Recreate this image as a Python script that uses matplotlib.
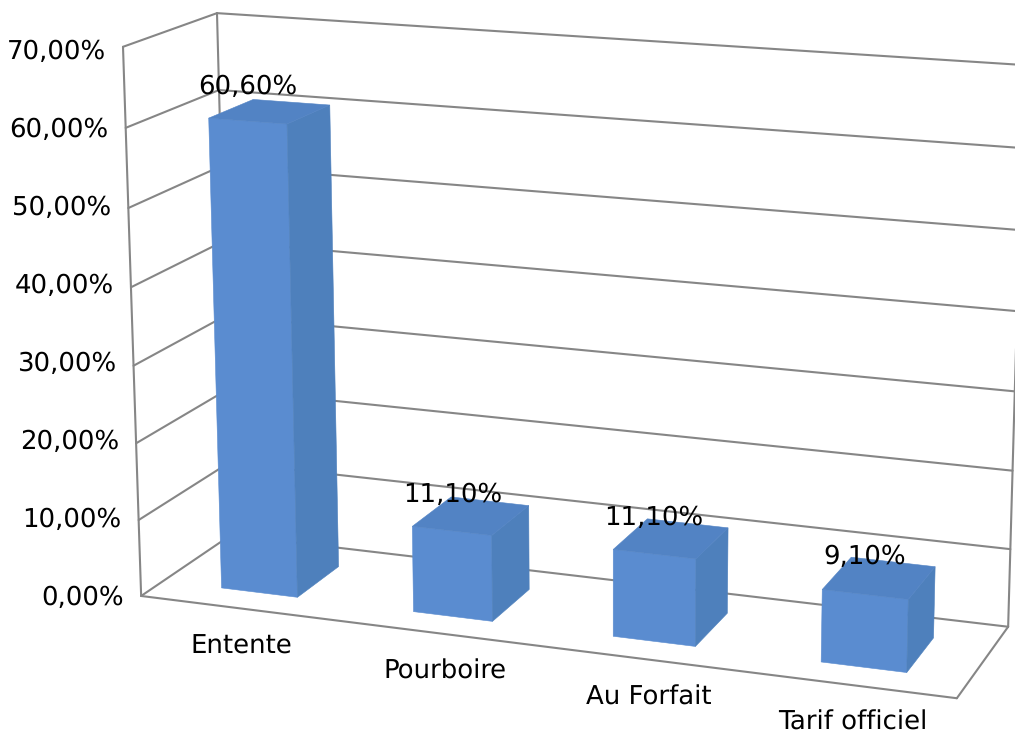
import numpy as np
import matplotlib
matplotlib.use("Agg")
import matplotlib.pyplot as plt

plt.rcParams["text.hinting"] = "none"
plt.rcParams["text.hinting_factor"] = 1

categories = ["Entente", "Pourboire", "Au Forfait", "Tarif officiel"]
values = [60.6, 11.1, 11.1, 9.1]
bar_labels = ["60,60%", "11,10%", "11,10%", "9,10%"]
ticks = [0, 10, 20, 30, 40, 50, 60, 70]
tick_labels = ["0,00%", "10,00%", "20,00%", "30,00%", "40,00%", "50,00%", "60,00%", "70,00%"]

GRID = "#868686"
FRONT = "#5a8cd0"
SIDE = "#4e80bc"
TOP = "#5283c4"
FS = 18.4

# camera of the fake 3d box: (category pos, value, depth) -> image pixel
world = [(0, 0, 0), (0, 70, 0), (0, 0, 1), (0, 70, 1), (4, 0, 0), (4, 0, 1), (4, 70, 1)]
image = [(141, 596), (123, 47), (231, 535), (217, 13), (957, 698), (1008, 627), (1024, 65)]

rows = []
for (X, Y, Z), (u, v) in zip(world, image):
    rows.append([X, Y, Z, 1, 0, 0, 0, 0, -u * X, -u * Y, -u * Z, -u])
    rows.append([0, 0, 0, 0, X, Y, Z, 1, -v * X, -v * Y, -v * Z, -v])
cam = np.linalg.svd(np.array(rows, dtype=float))[2][-1].reshape(3, 4)


def project(x, y, z):
    p = cam @ np.array([x, y, z, 1.0])
    return p[0] / p[2], p[1] / p[2]


fig = plt.figure(figsize=(10.15, 7.31), dpi=100)
ax = fig.add_axes([0, 0, 1, 1])
ax.set_xlim(0, 1015)
ax.set_ylim(731, 0)
ax.axis("off")


def edge(a, b):
    pa, pb = project(*a), project(*b)
    ax.plot([pa[0], pb[0]], [pa[1], pb[1]], color=GRID, lw=1.5, solid_capstyle="round", zorder=1)


def face(pts, color):
    xy = [project(*p) for p in pts]
    ax.fill([q[0] for q in xy], [q[1] for q in xy], facecolor=color, edgecolor=color, lw=0.4, zorder=2)


# walls and floor
for t in ticks:
    edge((0, t, 0), (0, t, 1))
    edge((0, t, 1), (4, t, 1))
edge((0, 0, 0), (0, 70, 0))
edge((0, 0, 1), (0, 70, 1))
edge((4, 0, 1), (4, 70, 1))
edge((0, 0, 0), (4, 0, 0))
edge((4, 0, 0), (4, 0, 1))

# axis labels sit evenly spaced on screen, not in perspective
fl_b, fl_t = np.array(project(0, 0, 0)), np.array(project(0, 70, 0))
fr_b = np.array(project(4, 0, 0))
for t, lab in zip(ticks, tick_labels):
    px, py = fl_b + (fl_t - fl_b) * t / 70
    ax.text(px - 17, py + 2 + t * 0.05, lab, ha="right", va="center", fontsize=FS, color="black", zorder=3)

# bars
half = 0.2
z0, z1 = 0.24, 0.73
nudge = [(-4, -4), (0, 0), (1, 0), (4, 0)]
for i, (cat, v, lab) in enumerate(zip(categories, values, bar_labels)):
    c = i + 0.51
    l, r = c - half, c + half
    face([(l, 0, z0), (r, 0, z0), (r, v, z0), (l, v, z0)], FRONT)
    face([(r, 0, z0), (r, 0, z1), (r, v, z1), (r, v, z0)], SIDE)
    face([(l, v, z0), (r, v, z0), (r, v, z1), (l, v, z1)], TOP)
    px, py = project(c, v, (z0 + z1) / 2)
    ax.text(px - 18.5 + nudge[i][0], py - 21 + nudge[i][1], lab, ha="center", va="center",
            fontsize=FS, color="black", zorder=4)
    px, py = fl_b + (fr_b - fl_b) * (i + 0.5) / 4
    ax.text(px - 2, py + 44.5, cat, ha="center", va="baseline", fontsize=FS, color="black", zorder=3)

fig.savefig("out.png", dpi=100, facecolor="white")
